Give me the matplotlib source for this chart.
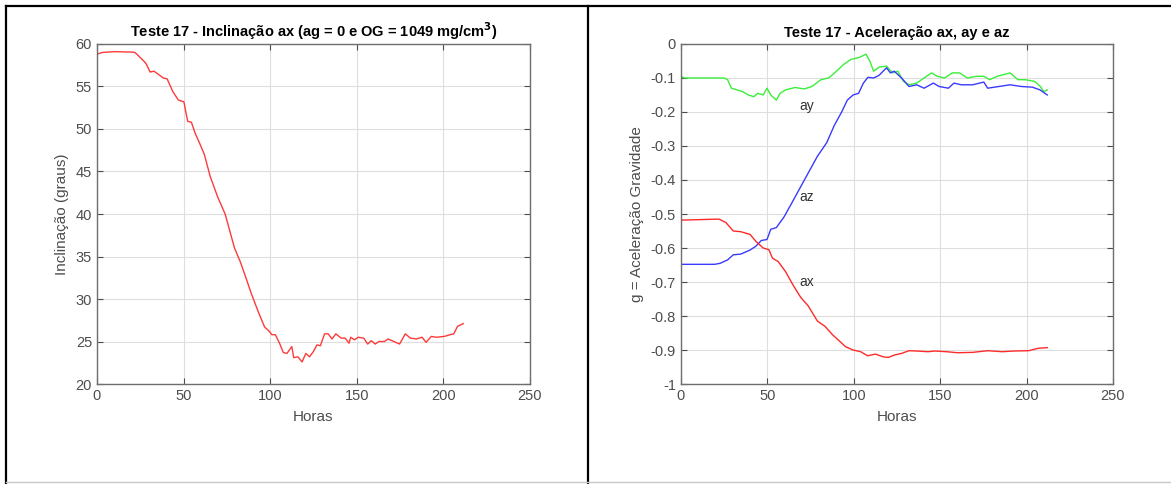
import matplotlib
matplotlib.use("Agg")
from matplotlib import pyplot as plt
from matplotlib.lines import Line2D

plt.rcParams['font.family'] = ['Liberation Sans', 'DejaVu Sans']

# inclinacao (graus) x horas
incl_h = [0, 3, 10, 20, 22, 25, 27.5, 28.6, 30.7, 32.9, 35, 38.3, 40.5, 41.6, 43.8, 47,
          50.2, 51.3, 52.4, 54.5, 56.7, 58.9, 62, 65.4, 69.7, 74, 79.4, 82.7, 86, 89,
          93.5, 96.8, 99, 101, 103, 105.4, 107.6, 109.7, 112.5, 113.6, 116, 118.4,
          120.6, 122.7, 124.9, 127, 129, 131.4, 133.5, 135.7, 137.9, 141, 143.3,
          145.5, 146.5, 148.7, 150.8, 154, 156.3, 158.4, 160.6, 162.8, 166, 168,
          171.4, 174.7, 178, 181, 184.4, 187.7, 190, 193, 196, 200.6, 203.9, 206,
          208.2, 211.5]
incl_v = [58.8, 59.0, 59.1, 59.05, 59.0, 58.4, 57.9, 57.6, 56.7, 56.8, 56.5, 56.0, 55.9,
          55.4, 54.4, 53.4, 53.2, 52.0, 50.9, 50.8, 49.5, 48.5, 47.0, 44.4, 42.0, 40.0,
          36.0, 34.4, 32.5, 30.7, 28.3, 26.7, 26.3, 25.8, 25.8, 24.8, 23.7, 23.6, 24.4,
          23.1, 23.2, 22.6, 23.6, 23.2, 23.8, 24.6, 24.5, 25.9, 25.9, 25.3, 25.9, 25.4,
          25.4, 24.8, 25.5, 25.2, 25.5, 25.4, 24.7, 25.1, 24.7, 25.0, 25.0, 25.3, 25.0,
          24.7, 25.9, 25.4, 25.3, 25.5, 24.9, 25.6, 25.5, 25.6, 25.8, 25.9, 26.8, 27.1]

# aceleracoes (g) x horas
ax_h = [0, 22, 26, 30.3, 34.6, 40, 43.3, 47.6, 50.9, 53, 56.3, 60.6, 65, 69.3, 73.6,
        79, 83.3, 87.7, 92, 95.2, 99.6, 104, 108, 112.6, 117, 120, 123.4, 127.7, 132,
        136.4, 143, 147, 153.7, 160, 168.8, 177.5, 186, 192.6, 201.3, 206.7, 212]
ax_v = [-0.518, -0.515, -0.525, -0.55, -0.552, -0.56, -0.58, -0.60, -0.605, -0.63,
        -0.64, -0.67, -0.71, -0.745, -0.77, -0.815, -0.83, -0.855, -0.875, -0.89,
        -0.9, -0.905, -0.917, -0.912, -0.92, -0.922, -0.915, -0.91, -0.902, -0.903,
        -0.905, -0.903, -0.905, -0.908, -0.907, -0.902, -0.905, -0.903, -0.902,
        -0.895, -0.893]

az_h = [0, 19.5, 22.7, 27, 30.3, 34.6, 40, 43.3, 46.5, 49.8, 52, 55.2, 59.5, 63.9,
        68.2, 73.6, 79, 84.4, 88.7, 93, 96.3, 99.6, 102.8, 105.6, 108.2, 111.5,
        114.7, 117, 119, 121.2, 123.4, 127.7, 132, 136.4, 140.7, 146.1, 149.4, 154.8,
        158, 162.3, 168.8, 175.3, 177.5, 184, 190.5, 197, 203.4, 207.8, 212]
az_v = [-0.648, -0.648, -0.645, -0.635, -0.62, -0.618, -0.606, -0.595, -0.578, -0.575,
        -0.545, -0.54, -0.51, -0.47, -0.43, -0.38, -0.33, -0.29, -0.24, -0.2, -0.165,
        -0.15, -0.145, -0.115, -0.098, -0.1, -0.092, -0.08, -0.07, -0.085, -0.08,
        -0.1, -0.125, -0.12, -0.13, -0.115, -0.125, -0.13, -0.115, -0.12, -0.12,
        -0.112, -0.13, -0.125, -0.12, -0.125, -0.127, -0.135, -0.15]

ay_h = [0, 2, 25, 27, 29.2, 32.5, 35.7, 39, 42.2, 44.4, 47.6, 49.8, 52, 55.2, 57.4,
        60.6, 66, 71.4, 75.8, 81, 85.5, 90, 94.2, 98.5, 103, 107.1, 109.3, 111.5,
        114.7, 119, 122.4, 125.5, 128.8, 132, 136.4, 140.7, 145, 148.3, 152.6, 157,
        161.3, 165.7, 171, 175.3, 178.6, 183, 190.5, 195, 199.3, 204.7, 208, 210, 212]
ay_v = [-0.095, -0.1, -0.1, -0.105, -0.13, -0.135, -0.14, -0.15, -0.155, -0.145,
        -0.15, -0.13, -0.15, -0.165, -0.145, -0.135, -0.128, -0.132, -0.125, -0.105,
        -0.1, -0.08, -0.06, -0.045, -0.04, -0.03, -0.05, -0.08, -0.068, -0.065,
        -0.085, -0.08, -0.11, -0.12, -0.115, -0.1, -0.085, -0.095, -0.1, -0.085,
        -0.085, -0.1, -0.095, -0.095, -0.105, -0.095, -0.085, -0.105, -0.105, -0.11,
        -0.125, -0.14, -0.135]

GRAY = '#4d4d4d'


def matlab_style(a):
    a.grid(True, color='#dedede', linewidth=0.8)
    a.set_axisbelow(True)
    for s in a.spines.values():
        s.set_color('#6e6e6e')
        s.set_linewidth(1.0)
    a.tick_params(direction='in', colors=GRAY, labelsize=10.5, length=4,
                  top=True, right=True)
    a.set_xlim(0, 250)
    a.set_xticks([0, 50, 100, 150, 200, 250])
    a.set_xlabel('Horas', fontsize=11, color=GRAY, labelpad=5)


fig = plt.figure(figsize=(11.71, 4.84), dpi=100)

ax1 = fig.add_axes([0.0828, 0.2066, 0.3698, 0.7025])
ax1.plot(incl_h, incl_v, color='#ff3a3a', linewidth=1.0)
matlab_style(ax1)
ax1.set_ylim(20, 60)
ax1.set_yticks(range(20, 61, 5))
ax1.set_ylabel('Inclinação (graus)', fontsize=11, color=GRAY, labelpad=5)
ax1.set_title(r'Teste 17 - Inclinação ax (ag = 0 e OG = 1049 mg/cm$^{\mathbf{3}}$)',
              fontsize=10.5, fontweight='bold', pad=5)

ax2 = fig.add_axes([0.5815, 0.2066, 0.3689, 0.7025])
ax2.plot(ay_h, ay_v, color='#3aee3a', linewidth=1.0)
ax2.plot(az_h, az_v, color='#3a3aff', linewidth=1.0)
ax2.plot(ax_h, ax_v, color='#ff2a2a', linewidth=1.0)
matlab_style(ax2)
ax2.set_ylim(-1, 0)
ax2.set_yticks([-1, -0.9, -0.8, -0.7, -0.6, -0.5, -0.4, -0.3, -0.2, -0.1, 0])
ax2.set_yticklabels(['-1', '-0.9', '-0.8', '-0.7', '-0.6', '-0.5', '-0.4',
                     '-0.3', '-0.2', '-0.1', '0'])
ax2.set_ylabel('g = Aceleração Gravidade', fontsize=11, color=GRAY, labelpad=5)
ax2.set_title('Teste 17 - Aceleração ax, ay e az', fontsize=10.5,
              fontweight='bold', pad=5)
ax2.text(73, -0.182, 'ay', fontsize=10, color='#333333', ha='center', va='center')
ax2.text(73, -0.45, 'az', fontsize=10, color='#333333', ha='center', va='center')
ax2.text(73, -0.70, 'ax', fontsize=10, color='#333333', ha='center', va='center')

# table borders around the two panels
W, H = 1171, 484
for (x0, y0, x1, y1, c, lw) in [(6, 6, 1171, 6, 'black', 1.6),
                                (6, 6, 6, 483, 'black', 1.6),
                                (588, 6, 588, 483, 'black', 1.6),
                                (6, 482, 1171, 482, '#c8c8c8', 1.0)]:
    fig.add_artist(Line2D([x0 / W, x1 / W], [1 - y0 / H, 1 - y1 / H],
                          color=c, linewidth=lw, transform=fig.transFigure))

fig.savefig('out.png', dpi=100)
